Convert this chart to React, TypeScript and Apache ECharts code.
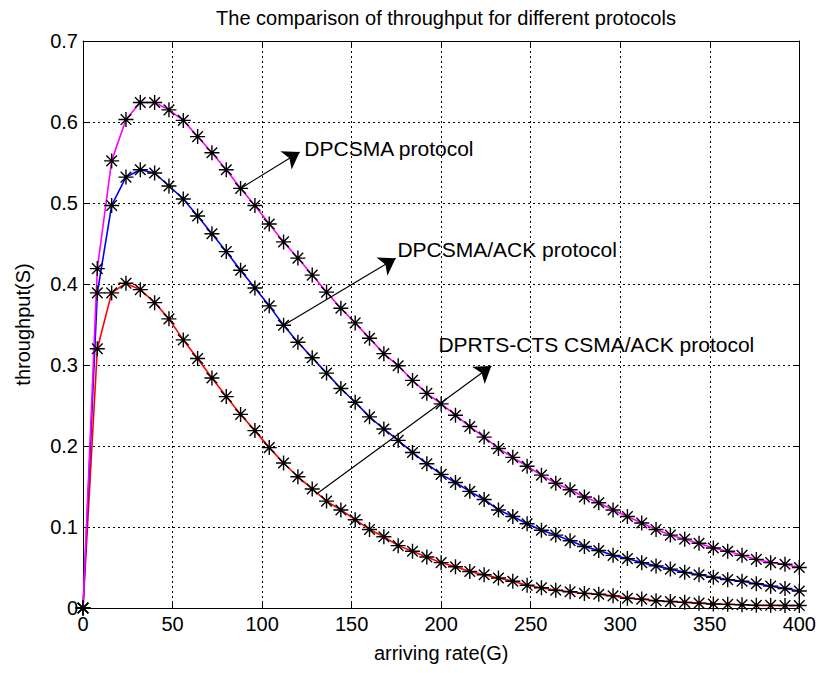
import React, { useEffect, useRef } from "react";
import * as echarts from "echarts";

const arrivingRate = [
  0, 8, 16, 24, 32, 40, 48, 56, 64, 72, 80, 88, 96, 104, 112, 120, 128, 136, 144, 152,
  160, 168, 176, 184, 192, 200, 208, 216, 224, 232, 240, 248, 256, 264, 272, 280, 288,
  296, 304, 312, 320, 328, 336, 344, 352, 360, 368, 376, 384, 392, 400,
];

const dpcsma = [
  0, 0.419, 0.552, 0.603, 0.624, 0.624, 0.615, 0.602, 0.582, 0.562, 0.541, 0.518, 0.497,
  0.474, 0.452, 0.432, 0.411, 0.39, 0.37, 0.352, 0.333, 0.314, 0.299, 0.281, 0.265, 0.252,
  0.238, 0.224, 0.211, 0.197, 0.186, 0.175, 0.164, 0.154, 0.146, 0.137, 0.13, 0.121, 0.113,
  0.105, 0.097, 0.09, 0.085, 0.08, 0.074, 0.07, 0.065, 0.06, 0.056, 0.054, 0.05,
];

const dpcsmaAck = [
  0, 0.389, 0.497, 0.532, 0.541, 0.537, 0.521, 0.505, 0.484, 0.462, 0.44, 0.417, 0.395,
  0.373, 0.349, 0.328, 0.309, 0.29, 0.271, 0.254, 0.236, 0.221, 0.207, 0.192, 0.178, 0.165,
  0.155, 0.144, 0.134, 0.121, 0.113, 0.104, 0.096, 0.09, 0.083, 0.076, 0.071, 0.065, 0.061,
  0.056, 0.052, 0.048, 0.044, 0.041, 0.038, 0.035, 0.033, 0.03, 0.027, 0.024, 0.021,
];

const dprtsCts = [
  0, 0.32, 0.389, 0.401, 0.393, 0.377, 0.357, 0.331, 0.308, 0.284, 0.261, 0.239, 0.219,
  0.198, 0.179, 0.162, 0.147, 0.132, 0.121, 0.109, 0.097, 0.088, 0.077, 0.07, 0.063, 0.056,
  0.051, 0.045, 0.041, 0.037, 0.033, 0.028, 0.025, 0.022, 0.02, 0.018, 0.017, 0.015, 0.012,
  0.011, 0.009, 0.008, 0.007, 0.006, 0.005, 0.0045, 0.004, 0.0033, 0.0033, 0.003, 0.003,
];

// annotation arrows: [startX, startY, endX, endY]
const arrows = [
  [88, 0.518, 121, 0.563],
  [112, 0.349, 174.6, 0.4317],
  [130.4, 0.1407, 228, 0.2988],
];
// annotation labels: [x, y, text]
const labels: [number, number, string][] = [
  [123.3, 0.5667, "DPCSMA protocol"],
  [175.3, 0.442, "DPCSMA/ACK protocol"],
  [198.2, 0.3247, "DPRTS-CTS CSMA/ACK protocol"],
];

const FONT = "Liberation Sans, Arial, sans-serif";
const STAR =
  "path://M6 0L6 12M0 6L12 6M1.76 1.76L10.24 10.24M1.76 10.24L10.24 1.76";

export default function App() {
  const ref = useRef<HTMLDivElement>(null);
  useEffect(() => {
    document.body.style.margin = "0";
    const chart = echarts.init(ref.current!, null, { renderer: "svg" });
    const mk = (name: string, vals: number[], color: string, extra: any = {}) => ({
      name,
      type: "line",
      data: arrivingRate.map((x, i) => [x, vals[i]]),
      symbol: STAR,
      symbolSize: 15,
      showAllSymbol: true,
      lineStyle: { color, width: 1.6 },
      itemStyle: { color: "#000", borderColor: "#000", borderWidth: 1.4 },
      emphasis: { disabled: true },
      silent: true,
      ...extra,
    });
    const axisCommonX = {
      type: "value",
      min: 0,
      max: 400,
      interval: 50,
    };
    const axisCommonY = {
      type: "value",
      min: 0,
      max: 0.7,
      interval: 0.1,
    };
    chart.setOption({
      animation: false,
      backgroundColor: "#fff",
      title: {
        text: "The comparison of throughput for different protocols",
        left: 441,
        textAlign: "center",
        top: 3,
        textStyle: { fontFamily: FONT, fontSize: 20, fontWeight: "normal", color: "#000" },
      },
      grid: { left: 83, right: 19, top: 41, bottom: 65 },
      xAxis: [
        {
          ...axisCommonX,
          position: "bottom",
          name: "arriving rate(G)",
          nameLocation: "middle",
          nameGap: 35,
          nameTextStyle: { fontFamily: FONT, fontSize: 20, color: "#000" },
          axisLine: { onZero: false, lineStyle: { color: "#000", width: 1 } },
          axisTick: { inside: true, length: 5, lineStyle: { color: "#000" } },
          axisLabel: { fontFamily: FONT, fontSize: 20, color: "#000", margin: 6 },
          splitLine: { show: true, lineStyle: { color: "#000", type: [2, 3], width: 1 } },
        },
        {
          ...axisCommonX,
          position: "top",
          axisLine: { onZero: false, lineStyle: { color: "#000", width: 1 } },
          axisTick: { inside: true, length: 5, lineStyle: { color: "#000" } },
          axisLabel: { show: false },
          splitLine: { show: false },
        },
      ],
      yAxis: [
        {
          ...axisCommonY,
          position: "left",
          name: "throughput(S)",
          nameLocation: "middle",
          nameGap: 50,
          nameTextStyle: { fontFamily: FONT, fontSize: 20, color: "#000" },
          axisLine: { show: true, onZero: false, lineStyle: { color: "#000", width: 1 } },
          axisTick: { show: true, inside: true, length: 5, lineStyle: { color: "#000" } },
          axisLabel: { fontFamily: FONT, fontSize: 20, color: "#000", margin: 5 },
          splitLine: { show: true, lineStyle: { color: "#000", type: [2, 3], width: 1 } },
        },
        {
          ...axisCommonY,
          position: "right",
          axisLine: { show: true, onZero: false, lineStyle: { color: "#000", width: 1 } },
          axisTick: { show: true, inside: true, length: 5, lineStyle: { color: "#000" } },
          axisLabel: { show: false },
          splitLine: { show: false },
        },
      ],
      series: [
        mk("DPRTS-CTS CSMA/ACK protocol", dprtsCts, "#ff0000", {
          markLine: {
            silent: true,
            symbol: ["none", "arrow"],
            symbolSize: 16,
            label: { show: false },
            lineStyle: { color: "#000", width: 1.2, type: "solid" },
            emphasis: { disabled: true },
            data: arrows.map((a) => [
              { coord: [a[0], a[1]] },
              { coord: [a[2], a[3]] },
            ]),
          },
          markPoint: {
            silent: true,
            symbol: "circle",
            symbolSize: 1,
            itemStyle: { color: "rgba(0,0,0,0)" },
            label: {
              show: true,
              position: "right",
              distance: 0,
              formatter: "{b}",
              color: "#000",
              fontFamily: FONT,
              fontSize: 21,
            },
            data: labels.map((l) => ({ coord: [l[0], l[1]], name: l[2] })),
          },
        }),
        mk("DPCSMA/ACK protocol", dpcsmaAck, "#0000ff"),
        mk("DPCSMA protocol", dpcsma, "#ff00ff"),
      ],
    });
    return () => chart.dispose();
  }, []);
  return <div ref={ref} style={{ width: 819, height: 673 }} />;
}
